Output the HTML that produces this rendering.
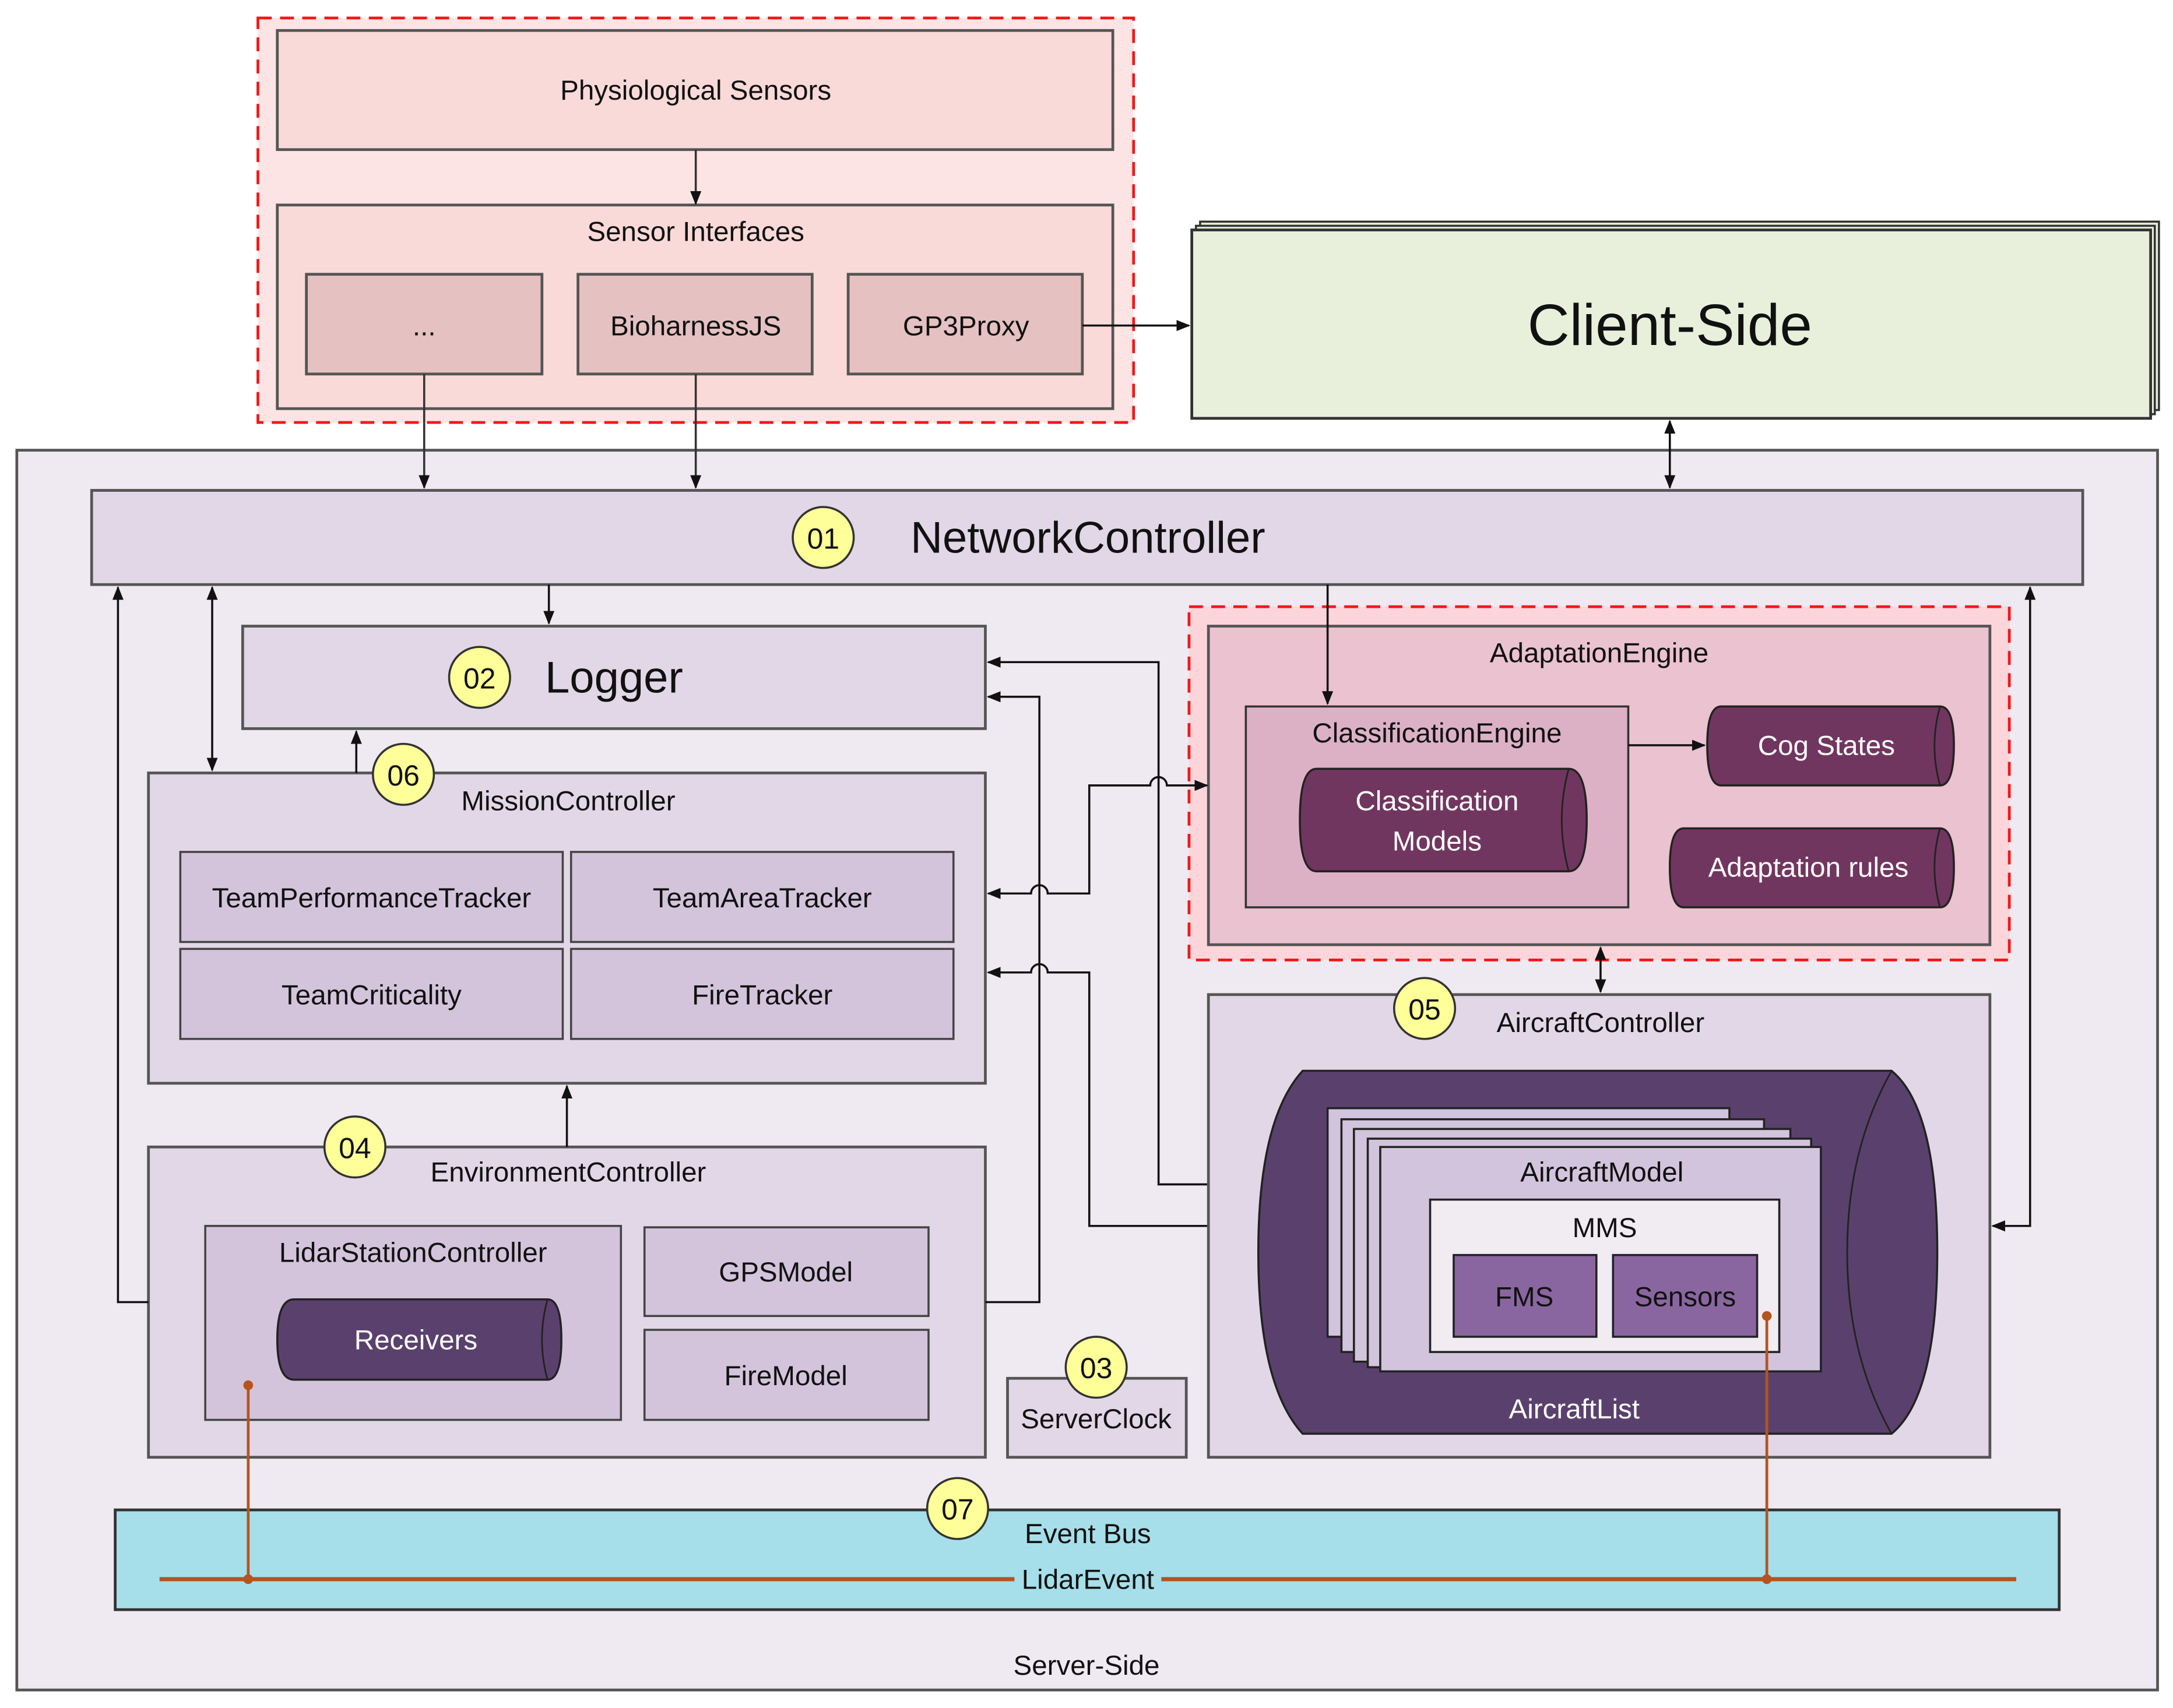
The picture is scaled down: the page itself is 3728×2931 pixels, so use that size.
<!DOCTYPE html>
<html><head><meta charset="utf-8"><style>
html,body{margin:0;padding:0;background:#fff;}
svg{display:block;}
text{font-family:"Liberation Sans",sans-serif;fill:#111;}
</style></head><body>
<svg width="3728" height="2931" viewBox="0 0 1568 1233" xmlns="http://www.w3.org/2000/svg">
<defs>
<marker id="a" markerWidth="10" markerHeight="8" refX="9" refY="4" orient="auto" markerUnits="userSpaceOnUse"><path d="M0,0 L10,4 L0,8 z" fill="#111"/></marker>
<marker id="as" markerWidth="10" markerHeight="8" refX="1" refY="4" orient="auto" markerUnits="userSpaceOnUse"><path d="M10,0 L0,4 L10,8 z" fill="#111"/></marker>
</defs>
<rect width="1568" height="1233" fill="#fff"/>

<rect x="186" y="13" width="632" height="292" fill="#fde4e4" stroke="#f01818" stroke-width="2" stroke-dasharray="10,6"/>
<rect x="200" y="22" width="603" height="86" fill="#f9dad8" stroke="#555" stroke-width="2"/>
<text x="502" y="72" font-size="20" text-anchor="middle">Physiological Sensors</text>
<rect x="200" y="148" width="603" height="147" fill="#f9dad8" stroke="#555" stroke-width="2"/>
<text x="502" y="174" font-size="20" text-anchor="middle">Sensor Interfaces</text>
<rect x="221" y="198" width="170" height="72" fill="#e5c1c1" stroke="#555" stroke-width="2"/>
<text x="306" y="242" font-size="20" text-anchor="middle">...</text>
<rect x="417" y="198" width="169" height="72" fill="#e5c1c1" stroke="#555" stroke-width="2"/>
<text x="502" y="242" font-size="20" text-anchor="middle">BioharnessJS</text>
<rect x="612" y="198" width="169" height="72" fill="#e5c1c1" stroke="#555" stroke-width="2"/>
<text x="697" y="242" font-size="20" text-anchor="middle">GP3Proxy</text>
<line x1="502" y1="108" x2="502" y2="147" stroke="#333" stroke-width="1.5" marker-end="url(#a)"/>
<line x1="781" y1="235" x2="858" y2="235" stroke="#111" stroke-width="1.5" marker-end="url(#a)"/>

<rect x="866" y="160" width="692" height="136" fill="#e8f0dc" stroke="#333" stroke-width="1.5"/>
<rect x="863" y="163" width="692" height="136" fill="#e8f0dc" stroke="#333" stroke-width="1.5"/>
<rect x="860" y="166" width="692" height="136" fill="#e8f0dc" stroke="#333" stroke-width="2"/>
<text x="1205" y="249" font-size="42" text-anchor="middle">Client-Side</text>

<rect x="12" y="325" width="1545" height="895" fill="#efe9f1" stroke="#555" stroke-width="2"/>
<text x="784" y="1209" font-size="20" text-anchor="middle">Server-Side</text>

<line x1="306" y1="270" x2="306" y2="352" stroke="#333" stroke-width="1.5" marker-end="url(#a)"/>
<line x1="502" y1="270" x2="502" y2="352" stroke="#333" stroke-width="1.5" marker-end="url(#a)"/>
<line x1="1205" y1="304" x2="1205" y2="352" stroke="#111" stroke-width="1.5" marker-start="url(#as)" marker-end="url(#a)"/>

<rect x="66" y="354" width="1437" height="68" fill="#e2d7e7" stroke="#555" stroke-width="2"/>
<circle cx="594" cy="388" r="22" fill="#ffff99" stroke="#333" stroke-width="1.5"/>
<text x="594" y="396" font-size="21" text-anchor="middle">01</text>
<text x="785" y="399" font-size="32" text-anchor="middle">NetworkController</text>

<rect x="175" y="452" width="536" height="74" fill="#e2d7e7" stroke="#555" stroke-width="2"/>
<circle cx="346" cy="489" r="22" fill="#ffff99" stroke="#333" stroke-width="1.5"/>
<text x="346" y="497" font-size="21" text-anchor="middle">02</text>
<text x="443" y="500" font-size="32" text-anchor="middle">Logger</text>
<line x1="396" y1="422" x2="396" y2="450" stroke="#111" stroke-width="1.5" marker-end="url(#a)"/>

<rect x="107" y="558" width="604" height="224" fill="#e2d7e7" stroke="#555" stroke-width="2"/>
<text x="410" y="585" font-size="20" text-anchor="middle">MissionController</text>
<rect x="130" y="615" width="276" height="65" fill="#d3c4dc" stroke="#444" stroke-width="1.5"/>
<text x="268" y="655" font-size="20" text-anchor="middle">TeamPerformanceTracker</text>
<rect x="412" y="615" width="276" height="65" fill="#d3c4dc" stroke="#444" stroke-width="1.5"/>
<text x="550" y="655" font-size="20" text-anchor="middle">TeamAreaTracker</text>
<rect x="130" y="685" width="276" height="65" fill="#d3c4dc" stroke="#444" stroke-width="1.5"/>
<text x="268" y="725" font-size="20" text-anchor="middle">TeamCriticality</text>
<rect x="412" y="685" width="276" height="65" fill="#d3c4dc" stroke="#444" stroke-width="1.5"/>
<text x="550" y="725" font-size="20" text-anchor="middle">FireTracker</text>
<line x1="257" y1="558" x2="257" y2="528" stroke="#111" stroke-width="1.5" marker-end="url(#a)"/>
<circle cx="291" cy="559" r="22" fill="#ffff99" stroke="#333" stroke-width="1.5"/>
<text x="291" y="567" font-size="21" text-anchor="middle">06</text>
<line x1="153" y1="424" x2="153" y2="556" stroke="#111" stroke-width="1.5" marker-start="url(#as)" marker-end="url(#a)"/>

<rect x="107" y="828" width="604" height="224" fill="#e2d7e7" stroke="#555" stroke-width="2"/>
<text x="410" y="853" font-size="20" text-anchor="middle">EnvironmentController</text>
<circle cx="256" cy="828" r="22" fill="#ffff99" stroke="#333" stroke-width="1.5"/>
<text x="256" y="836" font-size="21" text-anchor="middle">04</text>
<rect x="148" y="885" width="300" height="140" fill="#d3c4dc" stroke="#444" stroke-width="1.5"/>
<text x="298" y="911" font-size="20" text-anchor="middle">LidarStationController</text>
<path d="M212,938 L395,938 Q405,938 405,967 Q405,996 395,996 L212,996 Q200,996 200,967 Q200,938 212,938 z" fill="#5a416d" stroke="#222" stroke-width="1.5"/>
<path d="M395,938 Q387,967 395,996" fill="none" stroke="#222" stroke-width="1.2"/>
<text x="300" y="974" font-size="20" text-anchor="middle" style="fill:#fff">Receivers</text>
<rect x="465" y="886" width="205" height="64" fill="#d3c4dc" stroke="#444" stroke-width="1.5"/>
<text x="567" y="925" font-size="20" text-anchor="middle">GPSModel</text>
<rect x="465" y="960" width="205" height="65" fill="#d3c4dc" stroke="#444" stroke-width="1.5"/>
<text x="567" y="1000" font-size="20" text-anchor="middle">FireModel</text>
<line x1="409" y1="828" x2="409" y2="784" stroke="#111" stroke-width="1.5" marker-end="url(#a)"/>
<polyline points="107,940 85,940 85,424" fill="none" stroke="#111" stroke-width="1.5" marker-end="url(#a)"/>

<polyline points="711,940 750,940 750,503 713,503" fill="none" stroke="#111" stroke-width="1.5" marker-end="url(#a)"/>
<polyline points="872,855 836,855 836,478 713,478" fill="none" stroke="#111" stroke-width="1.5" marker-end="url(#a)"/>
<path d="M872,885 L786,885 L786,702 L756,702 A6,6 0 0 0 744,702 L713,702" fill="none" stroke="#111" stroke-width="1.5" marker-end="url(#a)"/>

<circle cx="791" cy="987" r="0" fill="none"/>
<rect x="727" y="995" width="129" height="57" fill="#e2d7e7" stroke="#555" stroke-width="2"/>
<text x="791" y="1031" font-size="20" text-anchor="middle">ServerClock</text>
<circle cx="791" cy="987" r="22" fill="#ffff99" stroke="#333" stroke-width="1.5"/>
<text x="791" y="995" font-size="21" text-anchor="middle">03</text>

<rect x="858" y="438" width="592" height="255" fill="#fcd5db" stroke="#f01818" stroke-width="2" stroke-dasharray="10,6"/>
<rect x="872" y="452" width="564" height="230" fill="#ebc2cf" stroke="#555" stroke-width="2"/>
<text x="1154" y="478" font-size="20" text-anchor="middle">AdaptationEngine</text>
<rect x="899" y="510" width="276" height="145" fill="#ddb1c5" stroke="#333" stroke-width="1.5"/>
<text x="1037" y="536" font-size="20" text-anchor="middle">ClassificationEngine</text>
<path d="M950,555 L1132,555 Q1145,555 1145,592 Q1145,629 1132,629 L950,629 Q938,629 938,592 Q938,555 950,555 z" fill="#71365f" stroke="#222" stroke-width="1.5"/>
<path d="M1132,555 Q1122,592 1132,629" fill="none" stroke="#222" stroke-width="1.2"/>
<text x="1037" y="585" font-size="20" text-anchor="middle" style="fill:#fff">Classification</text>
<text x="1037" y="614" font-size="20" text-anchor="middle" style="fill:#fff">Models</text>
<path d="M1242,510 L1400,510 Q1410,510 1410,538 Q1410,567 1400,567 L1242,567 Q1232,567 1232,538 Q1232,510 1242,510 z" fill="#71365f" stroke="#222" stroke-width="1.5"/>
<path d="M1400,510 Q1392,538 1400,567" fill="none" stroke="#222" stroke-width="1.2"/>
<text x="1318" y="545" font-size="20" text-anchor="middle" style="fill:#fff">Cog States</text>
<path d="M1215,598 L1400,598 Q1410,598 1410,626 Q1410,655 1400,655 L1215,655 Q1205,655 1205,626 Q1205,598 1215,598 z" fill="#71365f" stroke="#222" stroke-width="1.5"/>
<path d="M1400,598 Q1392,626 1400,655" fill="none" stroke="#222" stroke-width="1.2"/>
<text x="1305" y="633" font-size="20" text-anchor="middle" style="fill:#fff">Adaptation rules</text>
<line x1="1175" y1="538" x2="1230" y2="538" stroke="#111" stroke-width="1.5" marker-end="url(#a)"/>
<line x1="958" y1="422" x2="958" y2="508" stroke="#111" stroke-width="1.5" marker-end="url(#a)"/>
<line x1="1155" y1="684" x2="1155" y2="716" stroke="#111" stroke-width="1.5" marker-start="url(#as)" marker-end="url(#a)"/>
<path d="M713,645 L744,645 A6,6 0 0 1 756,645 L786,645 L786,567 L830,567 A6,6 0 0 1 842,567 L871,567" fill="none" stroke="#111" stroke-width="1.5" marker-start="url(#as)" marker-end="url(#a)"/>

<rect x="872" y="718" width="564" height="334" fill="#e2d7e7" stroke="#555" stroke-width="2"/>
<text x="1155" y="745" font-size="20" text-anchor="middle">AircraftController</text>
<circle cx="1028" cy="728" r="22" fill="#ffff99" stroke="#333" stroke-width="1.5"/>
<text x="1028" y="736" font-size="21" text-anchor="middle">05</text>
<path d="M940,773 L1365,773 Q1398,800 1398,904 Q1398,1008 1365,1035 L940,1035 Q908,1000 908,904 Q908,808 940,773 z" fill="#5a416d" stroke="#222" stroke-width="1.5"/>
<path d="M1365,773 Q1333,830 1333,904 Q1333,978 1365,1035" fill="none" stroke="#222" stroke-width="1.2"/>
<rect x="958" y="800" width="290" height="165" fill="#d1c4dc" stroke="#222" stroke-width="1.5"/>
<rect x="968" y="808" width="305" height="168" fill="#d1c4dc" stroke="#222" stroke-width="1.5"/>
<rect x="977" y="815" width="315" height="168" fill="#d1c4dc" stroke="#222" stroke-width="1.5"/>
<rect x="987" y="822" width="320" height="165" fill="#d1c4dc" stroke="#222" stroke-width="1.5"/>
<rect x="996" y="828" width="318" height="162" fill="#d1c4dc" stroke="#222" stroke-width="1.5"/>
<text x="1156" y="853" font-size="20" text-anchor="middle">AircraftModel</text>
<rect x="1032" y="866" width="252" height="110" fill="#f0ecf2" stroke="#222" stroke-width="1.5"/>
<text x="1158" y="893" font-size="20" text-anchor="middle">MMS</text>
<rect x="1049" y="906" width="103" height="59" fill="#8a66a0" stroke="#222" stroke-width="1.5"/>
<text x="1100" y="943" font-size="20" text-anchor="middle">FMS</text>
<rect x="1164" y="906" width="104" height="59" fill="#8a66a0" stroke="#222" stroke-width="1.5"/>
<text x="1216" y="943" font-size="20" text-anchor="middle">Sensors</text>
<text x="1136" y="1024" font-size="20" text-anchor="middle" style="fill:#fff">AircraftList</text>
<polyline points="1465,424 1465,885 1438,885" fill="none" stroke="#111" stroke-width="1.5" marker-start="url(#as)" marker-end="url(#a)"/>

<rect x="83" y="1090" width="1403" height="72" fill="#a6dfe9" stroke="#333" stroke-width="2"/>
<text x="785" y="1114" font-size="20" text-anchor="middle">Event Bus</text>
<line x1="115" y1="1140" x2="732" y2="1140" stroke="#b5541c" stroke-width="3"/>
<line x1="838" y1="1140" x2="1455" y2="1140" stroke="#b5541c" stroke-width="3"/>
<text x="785" y="1147" font-size="20" text-anchor="middle">LidarEvent</text>
<line x1="179" y1="1000" x2="179" y2="1140" stroke="#b5541c" stroke-width="2"/>
<circle cx="179" cy="1000" r="3.5" fill="#b5541c"/>
<circle cx="179" cy="1140" r="3.5" fill="#b5541c"/>
<line x1="1275" y1="950" x2="1275" y2="1140" stroke="#b5541c" stroke-width="2"/>
<circle cx="1275" cy="950" r="3.5" fill="#b5541c"/>
<circle cx="1275" cy="1140" r="3.5" fill="#b5541c"/>
<circle cx="691" cy="1089" r="22" fill="#ffff99" stroke="#333" stroke-width="1.5"/>
<text x="691" y="1097" font-size="21" text-anchor="middle">07</text>
</svg>
</body></html>
